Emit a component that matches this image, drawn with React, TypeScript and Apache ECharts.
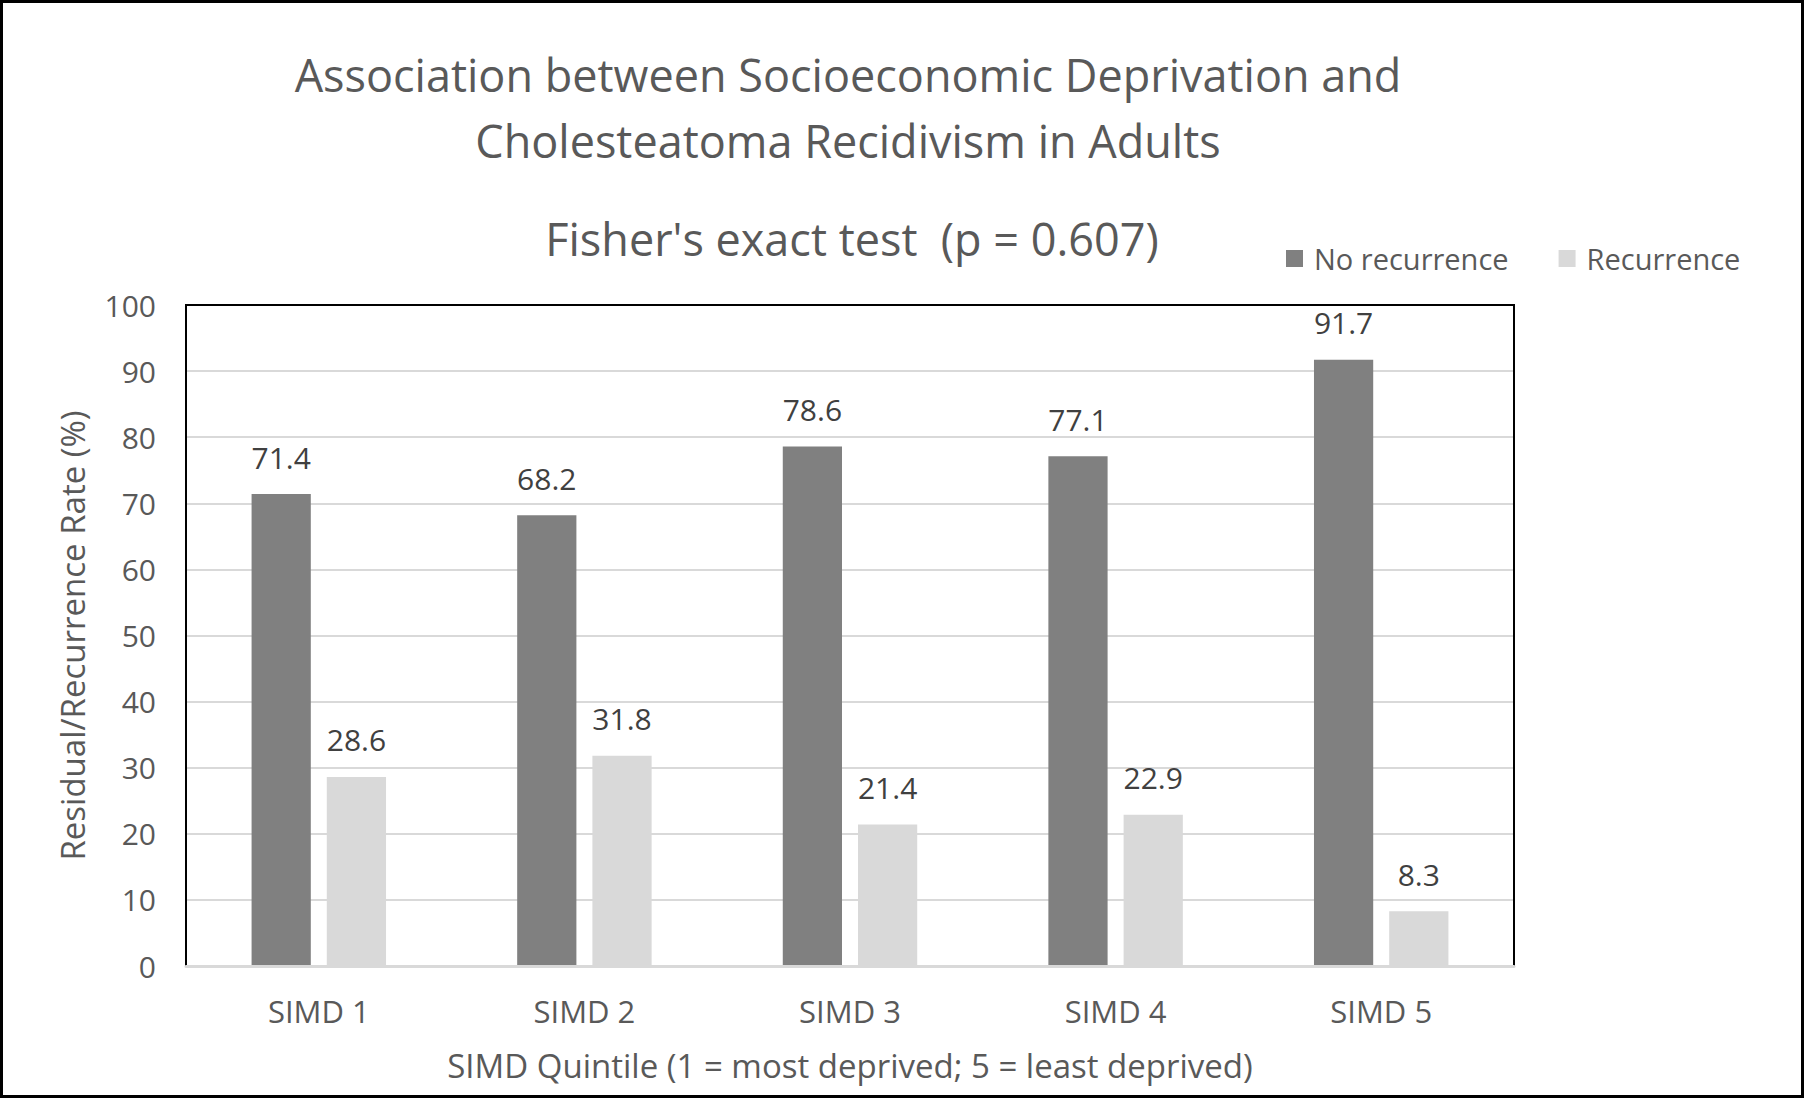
import React, { useEffect, useRef } from "react";
import * as echarts from "echarts";

const categories = ["SIMD 1", "SIMD 2", "SIMD 3", "SIMD 4", "SIMD 5"];
const noRecurrence = [71.4, 68.2, 78.6, 77.1, 91.7];
const recurrence = [28.6, 31.8, 21.4, 22.9, 8.3];
const seriesNames = ["No recurrence", "Recurrence"];
const titleLines = "Association between Socioeconomic Deprivation and\nCholesteatoma Recidivism in Adults";
const subtitle = "Fisher's exact test  (p = 0.607)";
const yAxisName = "Residual/Recurrence Rate (%)";
const xAxisName = "SIMD Quintile (1 = most deprived; 5 = least deprived)";

const FONT = "'Open Sans', sans-serif";

export default function App() {
  const ref = useRef<HTMLDivElement>(null);
  useEffect(() => {
    document.body.style.margin = "0";
    if (!ref.current) return;
    const chart = echarts.init(ref.current, undefined, { renderer: "svg" });
    const labelStyle = {
      show: true,
      position: "top" as const,
      distance: 22,
      color: "#404040",
      fontSize: 30,
      fontFamily: FONT,
    };
    chart.setOption({
      animation: false,
      backgroundColor: "#ffffff",
      textStyle: { fontFamily: FONT },
      title: [
        {
          text: titleLines,
          left: 840,
          top: 33,
          textAlign: "center",
          textStyle: {
            color: "#595959",
            fontSize: 45,
            fontWeight: "normal",
            fontFamily: FONT,
            lineHeight: 66,
          },
        },
        {
          text: subtitle,
          left: 844,
          top: 208,
          textAlign: "center",
          textStyle: {
            color: "#595959",
            fontSize: 45,
            fontWeight: "normal",
            fontFamily: FONT,
          },
        },
      ],
      legend: {
        data: seriesNames,
        left: 1278,
        top: 236,
        itemWidth: 17,
        itemHeight: 17,
        itemGap: 50,
        icon: "rect",
        textStyle: {
          color: "#595959",
          fontSize: 29,
          fontFamily: FONT,
          padding: [0, 0, 0, 6],
        },
      },
      grid: {
        left: 183,
        right: 287,
        top: 302,
        bottom: 129,
        show: true,
        borderColor: "#000000",
        borderWidth: 2,
        backgroundColor: "transparent",
        z: 2,
      },
      xAxis: {
        type: "category",
        data: categories,
        z: 3,
        axisLine: { show: true, lineStyle: { color: "#d9d9d9", width: 3 } },
        axisTick: { show: false },
        axisLabel: {
          color: "#595959",
          fontSize: 31,
          fontFamily: FONT,
          margin: 29,
        },
        name: xAxisName,
        nameLocation: "middle",
        nameGap: 83,
        nameTextStyle: { color: "#595959", fontSize: 33, fontFamily: FONT },
      },
      yAxis: {
        type: "value",
        min: 0,
        max: 100,
        interval: 10,
        axisLine: { show: false },
        axisTick: { show: false },
        axisLabel: {
          color: "#595959",
          fontSize: 30,
          fontFamily: FONT,
          margin: 30,
        },
        splitLine: { show: true, lineStyle: { color: "#d9d9d9", width: 2 } },
        name: yAxisName,
        nameLocation: "middle",
        nameGap: 97,
        nameRotate: 90,
        nameTextStyle: { color: "#595959", fontSize: 33, fontFamily: FONT },
      },
      series: [
        {
          name: seriesNames[0],
          type: "bar",
          data: noRecurrence,
          barWidth: "22.3%",
          barGap: "27%",
          itemStyle: { color: "#808080" },
          label: labelStyle,
        },
        {
          name: seriesNames[1],
          type: "bar",
          data: recurrence,
          barWidth: "22.3%",
          itemStyle: { color: "#d9d9d9" },
          label: labelStyle,
        },
      ],
    });
    return () => chart.dispose();
  }, []);
  return (
    <div
      style={{
        width: 1804,
        height: 1098,
        boxSizing: "border-box",
        border: "3px solid #000",
        overflow: "hidden",
        background: "#fff",
      }}
    >
      <div ref={ref} style={{ width: 1798, height: 1092 }} />
    </div>
  );
}
